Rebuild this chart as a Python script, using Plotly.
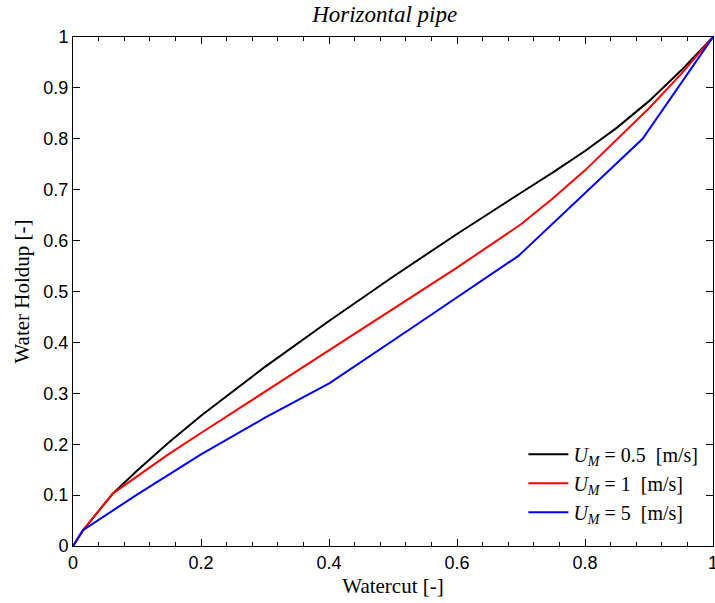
import plotly.graph_objects as go

# Data
x_black = [0, 0.0156, 0.0625, 0.1, 0.15, 0.2, 0.3, 0.4, 0.5, 0.6, 0.7, 0.75, 0.8, 0.85, 0.9, 0.95, 1.0]
y_black = [0, 0.031, 0.1035, 0.148, 0.204, 0.256, 0.352, 0.442, 0.529, 0.613, 0.694, 0.734, 0.776, 0.822, 0.874, 0.934, 1.0]

x_red = [0, 0.0156, 0.0625, 0.1, 0.15, 0.2, 0.3, 0.4, 0.5, 0.6, 0.7, 0.75, 0.8, 0.85, 0.9, 0.95, 1.0]
y_red = [0, 0.031, 0.1035, 0.137, 0.181, 0.222, 0.303, 0.384, 0.465, 0.547, 0.632, 0.683, 0.738, 0.798, 0.860, 0.927, 1.0]

x_blue = [0, 0.0156, 0.1, 0.2, 0.3, 0.401, 0.55, 0.696, 0.89, 1.0]
y_blue = [0, 0.031, 0.101, 0.180, 0.252, 0.320, 0.446, 0.570, 0.800, 1.0]

names = ["<i>U</i><sub><i>M</i></sub> = 0.5 &nbsp;[m/s]",
         "<i>U</i><sub><i>M</i></sub> = 1 &nbsp;[m/s]",
         "<i>U</i><sub><i>M</i></sub> = 5 &nbsp;[m/s]"]

x_ticks = [0, 0.2, 0.4, 0.6, 0.8, 1]
y_ticks = [0, 0.1, 0.2, 0.3, 0.4, 0.5, 0.6, 0.7, 0.8, 0.9, 1]

fig = go.Figure()
for xs, ys, nm, col in [(x_black, y_black, names[0], "black"),
                        (x_red, y_red, names[1], "red"),
                        (x_blue, y_blue, names[2], "blue")]:
    fig.add_trace(go.Scatter(x=xs, y=ys, mode="lines", name=nm,
                             line=dict(color=col, width=2)))

tickfont = dict(family="Liberation Sans, Arial, sans-serif", size=18, color="black")
serif = "Liberation Serif, Times New Roman, serif"

fig.update_layout(
    width=715, height=603,
    margin=dict(l=73, r=2, t=37, b=57, autoexpand=False),
    paper_bgcolor="white", plot_bgcolor="white",
    title=dict(text="<i>Horizontal pipe</i>", x=0.538, xanchor="center", y=0.977, yanchor="middle",
               font=dict(family=serif, size=23, color="black")),
    showlegend=True,
    legend=dict(x=0.985, y=0.028, xanchor="right", yanchor="bottom",
                bgcolor="rgba(255,255,255,0)", borderwidth=0,
                font=dict(family=serif, size=20, color="black"),
                tracegroupgap=0, itemwidth=40),
    xaxis=dict(range=[0, 1], tickvals=x_ticks, ticktext=[str(v) for v in x_ticks],
               ticks="inside", ticklen=7, tickcolor="black", showgrid=False, zeroline=False,
               showline=True, linecolor="black", linewidth=1, mirror="ticks",
               tickfont=tickfont, ticklabeloverflow="allow", automargin=False,
               minor=dict(dtick=0.04, ticks="inside", ticklen=4, tickcolor="black", showgrid=False),
               title=dict(text="Watercut [-]", font=dict(family=serif, size=21, color="black"), standoff=6)),
    yaxis=dict(range=[0, 1], tickvals=y_ticks, ticktext=[("%g" % v) for v in y_ticks],
               ticks="inside", ticklen=7, tickcolor="black", showgrid=False, zeroline=False,
               showline=True, linecolor="black", linewidth=1, mirror="ticks",
               tickfont=tickfont, ticklabeloverflow="allow", automargin=False,
               title=dict(text="Water Holdup [-]", font=dict(family=serif, size=21, color="black"), standoff=8)),
)

fig.write_html("out.html")
